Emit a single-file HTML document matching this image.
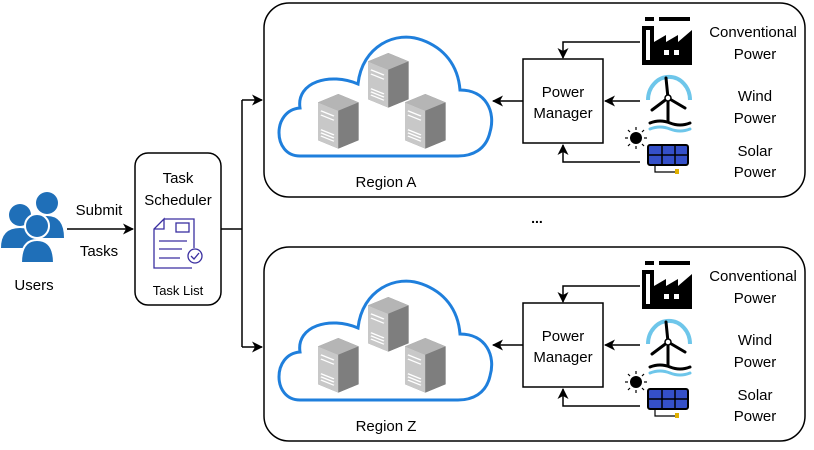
<!DOCTYPE html>
<html><head><meta charset="utf-8"><style>
html,body{margin:0;padding:0;background:#fff}
svg{display:block}
text{font-family:"Liberation Sans",sans-serif;fill:#000}
</style></head><body>
<svg width="814" height="450" viewBox="0 0 814 450" xmlns="http://www.w3.org/2000/svg">
<defs>
<marker id="ar" markerWidth="11" markerHeight="11" refX="10" refY="5.5" orient="auto" markerUnits="userSpaceOnUse">
<path d="M0,0 L11,5.5 L0,11 L3,5.5 Z" fill="#000"/>
</marker>
<g id="server">
<g transform="scale(1.45,1.05)">
<polygon points="0,8 14,0 28,8 28,44 14,52 0,44" fill="#8a8a8a"/>
<polygon points="0,8 14,0 28,8 14,16" fill="#b5b5b5"/>
<polygon points="0,8 14,16 14,52 0,44" fill="#c8c8c8"/>
<polygon points="14,16 28,8 28,44 14,52" fill="#7e7e7e"/>
<g stroke="#fff" stroke-width="1.2">
<line x1="2" y1="16" x2="11" y2="21"/><line x1="2" y1="20" x2="11" y2="25"/>
<line x1="2" y1="34" x2="11" y2="39"/><line x1="2" y1="37" x2="11" y2="42"/><line x1="2" y1="40" x2="11" y2="45"/>
</g>
</g>
</g>
<g id="region">
<rect x="264" y="3" width="541" height="194" rx="25" fill="#fff" stroke="#000" stroke-width="1.5"/>
<path d="M300,156 C272,156 272,110 300,108 C296,82 330,72 358,84 C362,46 396,30 422,40 C444,48 458,65 460,90 C486,90 496,112 490,132 C486,150 472,156 458,156 Z" fill="#fff" stroke="#1f7fdc" stroke-width="3"/>
<use href="#server" x="368" y="53"/>
<use href="#server" x="318" y="94"/>
<use href="#server" x="405" y="94"/>
<text x="386" y="187" font-size="15" text-anchor="middle">Region A</text>
<rect x="523" y="59" width="80" height="84" fill="#fff" stroke="#000" stroke-width="1.5"/>
<text x="563" y="97" font-size="15" text-anchor="middle">Power</text>
<text x="563" y="118" font-size="15" text-anchor="middle">Manager</text>
<line x1="523" y1="101" x2="493" y2="101" stroke="#000" stroke-width="1.5" marker-end="url(#ar)"/>
<polyline points="640,42 563,42 563,58" fill="none" stroke="#000" stroke-width="1.5" marker-end="url(#ar)"/>
<line x1="640" y1="101" x2="605" y2="101" stroke="#000" stroke-width="1.5" marker-end="url(#ar)"/>
<polyline points="640,162 563,162 563,145" fill="none" stroke="#000" stroke-width="1.5" marker-end="url(#ar)"/>
<rect x="645" y="17" width="9" height="4" fill="#000"/><rect x="659" y="17" width="31" height="4" fill="#000"/>
<path d="M642,26 H654 V42 L666,35 V42 L678,35 V42 L692,30 V65 H642 Z" fill="#000"/>
<rect x="646" y="30" width="4" height="30" fill="#fff"/>
<rect x="664" y="50" width="5" height="5" fill="#fff"/><rect x="674" y="50" width="5" height="5" fill="#fff"/>
<path d="M648,100 A20,22 0 0 1 690,100" fill="none" stroke="#6ec6ea" stroke-width="4"/>
<g stroke="#000" stroke-width="3" stroke-linecap="round" fill="none">
<line x1="668" y1="98" x2="666" y2="78"/><line x1="668" y1="98" x2="652" y2="110"/><line x1="668" y1="98" x2="685" y2="108"/>
<line x1="668" y1="98" x2="668" y2="122"/>
<path d="M650,123 Q660,119 670,123 T690,123"/>
<path d="M650,129 Q660,125 670,129 T690,129" stroke="#6ec6ea"/>
</g>
<circle cx="668" cy="98" r="3" fill="#fff" stroke="#000" stroke-width="1.5"/>
<circle cx="636" cy="138" r="6" fill="#000"/>
<g stroke="#000" stroke-width="1.2">
<line x1="636" y1="127" x2="636" y2="130"/><line x1="636" y1="146" x2="636" y2="149"/>
<line x1="625" y1="138" x2="628" y2="138"/><line x1="644" y1="138" x2="647" y2="138"/>
<line x1="628" y1="130" x2="630" y2="132"/><line x1="642" y1="144" x2="644" y2="146"/>
<line x1="644" y1="130" x2="642" y2="132"/><line x1="628" y1="146" x2="630" y2="144"/>
</g>
<rect x="648" y="145" width="40" height="20" rx="2" fill="#3550c8" stroke="#000" stroke-width="2"/>
<line x1="662" y1="145" x2="662" y2="165" stroke="#000" stroke-width="1.5"/><line x1="675" y1="145" x2="675" y2="165" stroke="#000" stroke-width="1.5"/>
<line x1="648" y1="155" x2="688" y2="155" stroke="#000" stroke-width="1.5"/>
<path d="M655,165 V172 H675" fill="none" stroke="#000" stroke-width="1.2"/>
<rect x="675" y="169" width="4" height="5" fill="#e0b000"/>
<text x="753" y="37" font-size="15" text-anchor="middle">Conventional</text>
<text x="755" y="59" font-size="15" text-anchor="middle">Power</text>
<text x="755" y="101" font-size="15" text-anchor="middle">Wind</text>
<text x="755" y="123" font-size="15" text-anchor="middle">Power</text>
<text x="755" y="156" font-size="15" text-anchor="middle">Solar</text>
<text x="755" y="177" font-size="15" text-anchor="middle">Power</text>
</g>
</defs>
<use href="#region"/>
<g transform="translate(0,244)">
<use href="#region"/>
<rect x="340" y="172" width="100" height="20" fill="#fff"/>
<text x="386" y="187" font-size="15" text-anchor="middle">Region Z</text>
</g>
<text x="537" y="223" font-size="14" text-anchor="middle" font-weight="bold">...</text>
<g fill="#1f6fb8">
<circle cx="47" cy="203" r="11"/><path d="M30,238 Q30,216 47,216 Q64,216 64,238 Z"/>
<circle cx="20" cy="215" r="11"/><path d="M1,248 Q1,228 20,228 Q39,228 39,248 Z"/>
<circle cx="37" cy="226" r="12" stroke="#fff" stroke-width="2"/><path d="M21,263 Q21,240 37,240 Q54,240 54,263 Z" stroke="#fff" stroke-width="2"/>
</g>
<text x="34" y="290" font-size="15" text-anchor="middle">Users</text>
<line x1="67" y1="229" x2="133" y2="229" stroke="#000" stroke-width="1.5" marker-end="url(#ar)"/>
<text x="99" y="215" font-size="15" text-anchor="middle">Submit</text>
<text x="99" y="256" font-size="15" text-anchor="middle">Tasks</text>
<rect x="135" y="153" width="86" height="152" rx="13" fill="#fff" stroke="#000" stroke-width="1.5"/>
<text x="178" y="183" font-size="15" text-anchor="middle">Task</text>
<text x="178" y="205" font-size="15" text-anchor="middle">Scheduler</text>
<g fill="none" stroke="#3a2fa0" stroke-width="1.3">
<path d="M164,219 H194 V248 M192,268 H154 V229 L164,219 V229 H154"/>
<rect x="176" y="223" width="13" height="9"/>
<line x1="159" y1="241" x2="187" y2="241"/><line x1="159" y1="249" x2="182" y2="249"/><line x1="159" y1="258" x2="180" y2="258"/>
<circle cx="195" cy="256" r="7"/><path d="M191,256 L194,259 L199,253"/>
</g>
<text x="178" y="295" font-size="13" text-anchor="middle">Task List</text>
<polyline points="221,229 242,229" fill="none" stroke="#000" stroke-width="1.5"/>
<line x1="242" y1="100" x2="242" y2="347" stroke="#000" stroke-width="1.5"/>
<line x1="242" y1="100" x2="262" y2="100" stroke="#000" stroke-width="1.5" marker-end="url(#ar)"/>
<line x1="242" y1="347" x2="262" y2="347" stroke="#000" stroke-width="1.5" marker-end="url(#ar)"/>
</svg>
</body></html>
